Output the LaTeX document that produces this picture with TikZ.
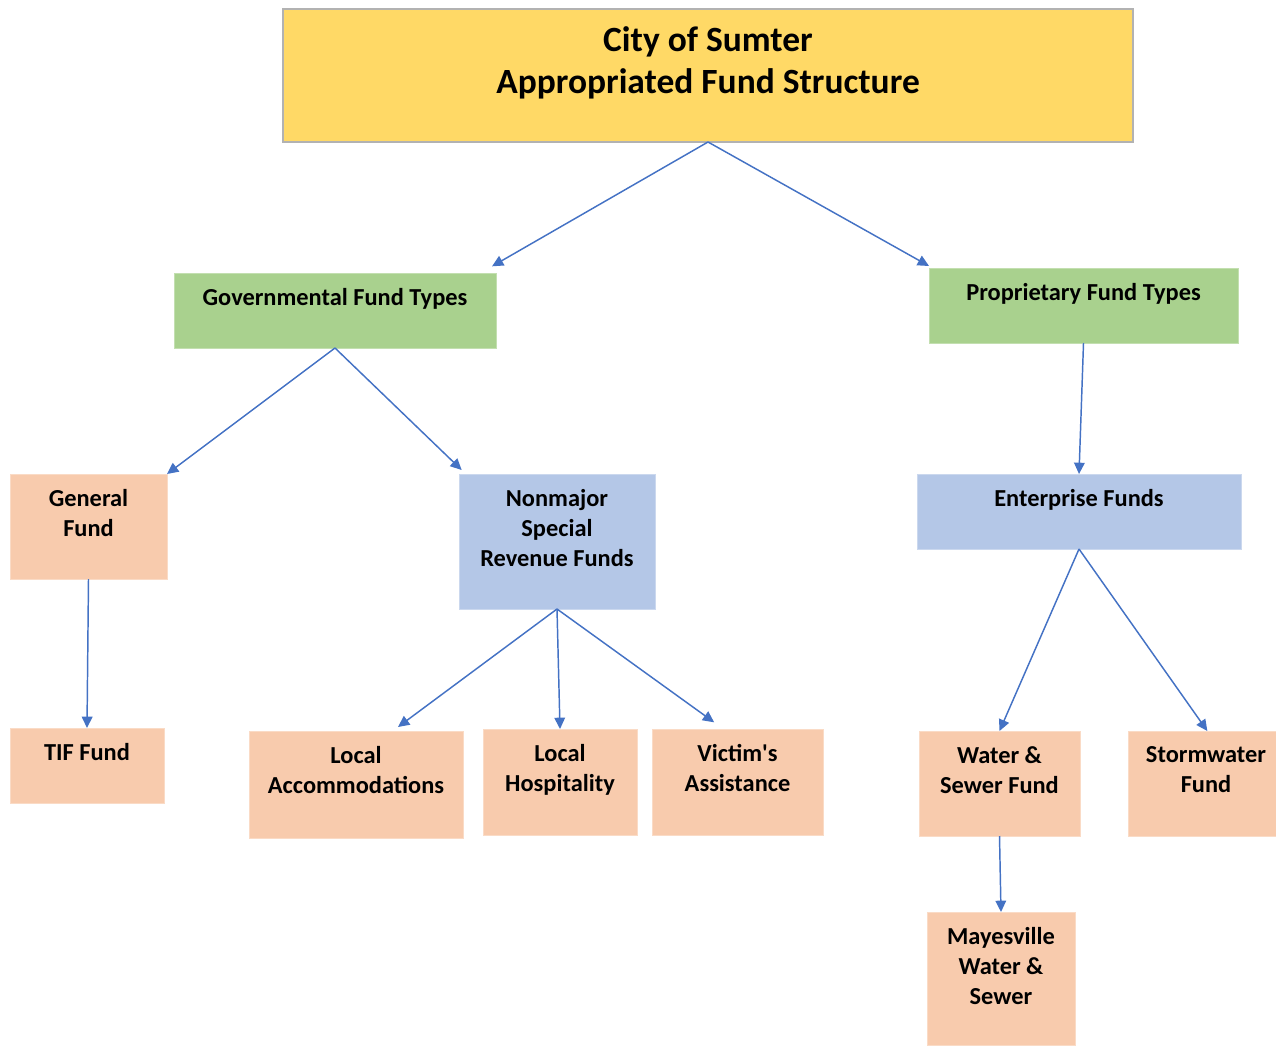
\documentclass[tikz,border=0pt]{standalone}
\usepackage{fontspec}
\setmainfont{Carlito}
\usetikzlibrary{arrows.meta}
\usetikzlibrary{positioning}
\definecolor{gold}{HTML}{FFD966}
\definecolor{leaf}{HTML}{A9D18E}
\definecolor{peach}{HTML}{F8CBAD}
\definecolor{sky}{HTML}{B4C7E7}
\definecolor{arrowblue}{HTML}{4472C4}
\tikzset{
  x=0.75pt, y=-0.75pt,
  box/.style={rectangle,inner sep=0,outer sep=0},
  box title/.style={box,fill=gold,draw=black!30,line width=0.8pt},
  box type/.style={box,fill=leaf,draw=leaf!70!white,line width=0.5pt},
  box group/.style={box,fill=sky,draw=sky!70!white,line width=0.5pt},
  box fund/.style={box,fill=peach,draw=peach!70!white,line width=0.5pt},
  txt/.style={anchor=north,align=center,inner sep=0,yshift=-11.5pt,
    font=\fontsize{18.3}{22.5}\selectfont\bfseries},
  txt title/.style={txt,yshift=-1.75pt,font=\fontsize{26.6}{31.5}\selectfont\bfseries},
  connect arrow/.style={-{Triangle[length=8.5pt,width=8pt]},line width=1.1pt,arrowblue}
}
\begin{document}
\begin{tikzpicture}
    \useasboundingbox (0,0) rectangle (1276,1045);

    % Draw the boxes
    \node[box title, minimum width=637.5pt, minimum height=99.75pt] (title) at (708,75.5) {};
    \node[box type,  minimum width=241.5pt, minimum height=56.25pt] (gov) at (335,310.5) {};
    \node[box type,  minimum width=231.75pt, minimum height=56.25pt] (prop) at (1083.5,305.5) {};
    \node[box fund,  minimum width=117.75pt, minimum height=78.75pt] (genf) at (88.5,526.5) {};
    \node[box group, minimum width=147pt, minimum height=101.25pt] (nonmaj) at (557,541.5) {};
    \node[box group, minimum width=243pt, minimum height=56.25pt] (enter) at (1079,511.5) {};
    \node[box fund,  minimum width=115.5pt, minimum height=56.25pt] (tif) at (87,765.5) {};
    \node[box fund,  minimum width=160.5pt, minimum height=80.25pt] (locacc) at (356,784.5) {};
    \node[box fund,  minimum width=115.5pt, minimum height=79.5pt] (lochosp) at (560,782) {};
    \node[box fund,  minimum width=128.25pt, minimum height=79.5pt] (victim) at (737.5,782) {};
    \node[box fund,  minimum width=120.75pt, minimum height=78.75pt] (water) at (999.5,783.5) {};
    \node[box fund,  minimum width=117pt, minimum height=78.75pt] (storm) at (1206,783.5) {};
    \node[box fund,  minimum width=111pt, minimum height=99.75pt] (mayes) at (1001,978.5) {};

    % Label the boxes
    \node[txt title] (title text) at (title.north) {City of Sumter\\Appropriated Fund Structure};
    \node[txt] (gov text) at (gov.north) {Governmental Fund Types};
    \node[txt] (prop text) at (prop.north) {Proprietary Fund Types};
    \node[txt] (genf text) at (genf.north) {General\\Fund};
    \node[txt] (nonmaj text) at (nonmaj.north) {Nonmajor\\Special\\Revenue Funds};
    \node[txt] (enter text) at (enter.north) {Enterprise Funds};
    \node[txt] (tif text) at (tif.north) {TIF Fund};
    \node[txt] (locacc text) at (locacc.north) {Local\\Accommodations};
    \node[txt] (lochosp text) at (lochosp.north) {Local\\Hospitality};
    \node[txt] (victim text) at (victim.north) {Victim\textquotesingle s\\Assistance};
    \node[txt] (water text) at (water.north) {Water \&\\Sewer Fund};
    \node[txt] (storm text) at (storm.north) {Stormwater\\Fund};
    \node[txt] (mayes text) at (mayes.north) {Mayesville\\Water \&\\Sewer};

    % Draw the arrows
    \draw[connect arrow] (title.south) -- ([xshift=-3pt,yshift=5pt]gov.north east);
    \draw[connect arrow] (title.south) -- ([yshift=1.5pt]prop.north west);
    \draw[connect arrow] (gov.south) -- (genf.north east);
    \draw[connect arrow] (gov.south) -- ([xshift=2pt,yshift=3pt]nonmaj.north west);
    \draw[connect arrow] (prop.south) -- (enter.north);
    \draw[connect arrow] (genf.south) -- (tif.north);
    \draw[connect arrow] (nonmaj.south) -- ([xshift=31.5pt,yshift=3pt]locacc.north);
    \draw[connect arrow] (nonmaj.south) -- (lochosp.north);
    \draw[connect arrow] (nonmaj.south) -- ([xshift=-17.5pt,yshift=5pt]victim.north);
    \draw[connect arrow] (enter.south) -- (water.north);
    \draw[connect arrow] (enter.south) -- ([xshift=1pt]storm.north);
    \draw[connect arrow] (water.south) -- (mayes.north);
\end{tikzpicture}
\end{document}
